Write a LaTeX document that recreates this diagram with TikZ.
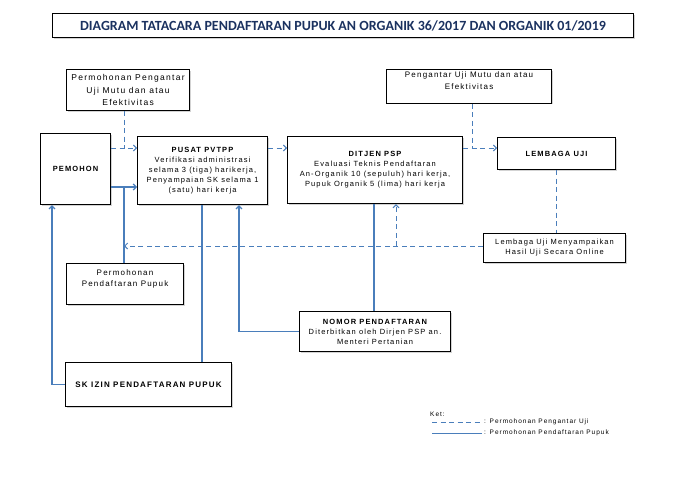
\documentclass[tikz,border=0pt]{standalone}
\usepackage{fontspec}
\usepackage{tikz}
\usetikzlibrary{arrows.meta,shadows}
\setmainfont{Liberation Sans}
\newfontfamily\hurufkotak{Liberation Sans}[LetterSpace=15]
\newfontfamily\hurufjudul{Carlito}
\definecolor{garisbiru}{HTML}{4A7EBB}
\definecolor{birujudul}{HTML}{1B3260}
\tikzset{
  kotak/.style={draw, line width=1.1pt, fill=white, align=center, inner sep=2pt,
    anchor=north west, drop shadow={shadow xshift=1pt, shadow yshift=-1pt, opacity=0.35},
    font=\hurufkotak\fontsize{7.5}{10}\selectfont},
  putus/.style={draw=garisbiru, line width=1pt, dash pattern=on 5pt off 3.5pt},
  utuh/.style={draw=garisbiru, line width=1.2pt},
  panah/.style={-{Straight Barb[length=3pt,width=6pt]}}
}

\begin{document}
\begin{tikzpicture}[x=1pt,y=-1pt]
    \useasboundingbox (0,0) rectangle (684,500);

    \node[kotak, minimum width=581pt, minimum height=24pt, text=birujudul, font=\hurufjudul\bfseries\fontsize{14}{16}\selectfont] (judul) at (52,13) {DIAGRAM TATACARA  PENDAFTARAN PUPUK AN ORGANIK 36/2017 DAN ORGANIK 01/2019};

    \node[kotak, minimum width=123pt, minimum height=41pt, font=\hurufkotak\fontsize{8.5}{12.5}\selectfont] (mohonuji) at (66,69) {Permohonan Pengantar\\ Uji Mutu dan atau\\ Efektivitas};
    \node[kotak, minimum width=165pt, minimum height=33pt, font=\hurufkotak\fontsize{8}{12}\selectfont] (pengantar) at (386,69) {Pengantar Uji Mutu dan atau\\ Efektivitas\\ \mbox{}};

    \node[kotak, minimum width=70pt, minimum height=71pt] (pemohon) at (40,133) {\bfseries PEMOHON};
    \node[kotak, minimum width=130pt, minimum height=68pt] (pusat) at (137,136) {\bfseries PUSAT PVTPP\\ Verifikasi administrasi\\ selama 3 (tiga) harikerja,\\ Penyampaian SK selama 1\\ (satu) hari kerja};
    \node[kotak, minimum width=175pt, minimum height=67pt] (ditjen) at (287,136) {\bfseries DITJEN PSP\\ Evaluasi Teknis Pendaftaran\\ An-Organik 10 (sepuluh) hari kerja,\\ Pupuk Organik 5 (lima) hari kerja};
    \node[kotak, minimum width=118pt, minimum height=32pt] (lembaga) at (497,137) {\bfseries LEMBAGA UJI};
    \node[kotak, minimum width=142pt, minimum height=29pt] (hasiluji) at (483,233) {Lembaga Uji Menyampaikan\\ Hasil Uji Secara Online};

    \node[kotak, minimum width=117pt, minimum height=41pt, font=\hurufkotak\fontsize{8}{11}\selectfont] (mohondaftar) at (66,263) {Permohonan\\ Pendaftaran Pupuk\\ \mbox{}};
    \node[kotak, minimum width=151pt, minimum height=40pt] (nomor) at (299,311) {\bfseries NOMOR PENDAFTARAN\\ Diterbitkan oleh Dirjen PSP an.\\ Menteri Pertanian};
    \node[kotak, minimum width=166pt, minimum height=44pt, font=\hurufkotak\bfseries\fontsize{8}{10}\selectfont] (skizin) at (65,362) {SK IZIN PENDAFTARAN PUPUK};

    % jalur garis
    \coordinate (garisuji) at (0,148);
    \coordinate (garisdaftar) at (0,187);
    \coordinate (garishasil) at (0,246);
    \coordinate (tepikiri) at (52,0);
    \coordinate (tiangkiri) at (124,0);
    \coordinate (tiangsk) at (202,0);
    \coordinate (tiangnomor) at (239,0);
    \coordinate (tiangditjen) at (374,0);
    \coordinate (tianghasil) at (396,0);
    \coordinate (tiangpengantar) at (472,0);

    % permohonan pengantar uji
    \draw[putus] (mohonuji.south -| tiangkiri) -- (tiangkiri |- garisuji);
    \draw[putus,panah] (pemohon.east |- garisuji) -- (pusat.west |- garisuji);
    \draw[putus,panah] (pusat.east |- garisuji) -- (ditjen.west |- garisuji);
    \draw[putus] (pengantar.south -| tiangpengantar) -- (tiangpengantar |- garisuji);
    \draw[putus,panah] (ditjen.east |- garisuji) -- (lembaga.west |- garisuji);
    \draw[putus] (lembaga.south) -- (lembaga.south |- hasiluji.north);
    \draw[putus,panah] (hasiluji.west |- garishasil) -- (tiangkiri |- garishasil);
    \draw[putus,panah] (tianghasil |- garishasil) -- (tianghasil |- ditjen.south);

    % permohonan pendaftaran pupuk
    \draw[utuh,panah] (pemohon.east |- garisdaftar) -- (pusat.west |- garisdaftar);
    \draw[utuh] (mohondaftar.north -| tiangkiri) -- (tiangkiri |- garisdaftar);
    \draw[utuh] (pusat.south -| tiangsk) -- (skizin.north -| tiangsk);
    \draw[utuh,panah] (skizin.west) -- (skizin.west -| tepikiri) -- (tepikiri |- pemohon.south);
    \draw[utuh] (ditjen.south -| tiangditjen) -- (nomor.north -| tiangditjen);
    \draw[utuh,panah] (nomor.west) -- (nomor.west -| tiangnomor) -- (tiangnomor |- pusat.south);

    % keterangan
    \node[anchor=west, inner sep=0pt, font=\hurufkotak\fontsize{6.5}{8}\selectfont] (ket) at (430,414) {Ket:};
    \coordinate (putusawal) at (432,422);
    \coordinate (putusakhir) at (482,422);
    \coordinate (utuhawal) at (432,433);
    \coordinate (utuhakhir) at (482,433);
    \draw[putus, line width=0.8pt] (putusawal) -- (putusakhir);
    \draw[utuh, line width=0.9pt] (utuhawal) -- (utuhakhir);
    \node[anchor=west, inner sep=2pt, font=\hurufkotak\fontsize{6.5}{8}\selectfont] (ketuji) at (putusakhir) {: Permohonan Pengantar  Uji};
    \node[anchor=west, inner sep=2pt, font=\hurufkotak\fontsize{6.5}{8}\selectfont] (ketdaftar) at (utuhakhir) {: Permohonan Pendaftaran  Pupuk};
\end{tikzpicture}
\end{document}
